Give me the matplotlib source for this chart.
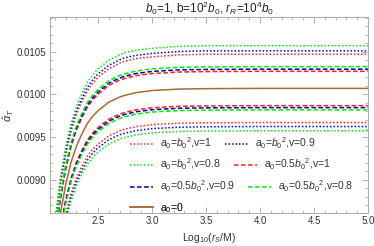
import matplotlib
matplotlib.use("Agg")
import matplotlib.pyplot as plt
from matplotlib.ticker import MultipleLocator, FormatStrFormatter

plt.rcParams['font.family'] = ['Liberation Sans', 'DejaVu Sans']
plt.rcParams['mathtext.fontset'] = 'custom'
plt.rcParams['mathtext.rm'] = 'Liberation Sans'
plt.rcParams['mathtext.it'] = 'Liberation Sans:italic'
plt.rcParams['mathtext.bf'] = 'Liberation Sans:bold'

# log10(r_S/M) sample points
x = [2.05, 2.1, 2.15, 2.2, 2.25, 2.3, 2.35, 2.4, 2.45, 2.5, 2.6, 2.7, 2.75, 2.85, 3.0, 3.25, 3.5, 4.0, 5.0]

# upper branch (above a0=0) and lower branch for each case
red_dot_up = [0.00761, 0.00842, 0.00893, 0.00930, 0.00957, 0.00977, 0.009915, 0.01004, 0.010130, 0.01020,
              0.01030, 0.010365, 0.01039, 0.010418, 0.01044, 0.010462, 0.01047, 0.01047, 0.01047]
blue_dot_up = [0.00764, 0.00845, 0.00897, 0.00933, 0.00961, 0.00981, 0.009953, 0.01008, 0.010168, 0.01024,
               0.01034, 0.010405, 0.01043, 0.010457, 0.01048, 0.010502, 0.01051, 0.01051, 0.01051]
green_dot_up = [0.00768, 0.00850, 0.00902, 0.00939, 0.00966, 0.00986, 0.010010, 0.01014, 0.010226, 0.01030,
                0.01040, 0.010464, 0.01049, 0.010517, 0.01054, 0.010562, 0.01057, 0.01057, 0.01057]
red_dash_up = [0.007466, 0.008257, 0.008760, 0.009120, 0.009387, 0.009582, 0.009726, 0.009849, 0.009936, 0.010003,
               0.010106, 0.010167, 0.010188, 0.010219, 0.010244, 0.010262, 0.010267, 0.010270, 0.010270]
blue_dash_up = [0.007484, 0.008277, 0.008782, 0.009142, 0.009410, 0.009605, 0.009749, 0.009873, 0.009960, 0.010027,
                0.010130, 0.010192, 0.010213, 0.010244, 0.010269, 0.010287, 0.010292, 0.010295, 0.010295]
green_dash_up = [0.007506, 0.008301, 0.008807, 0.009169, 0.009437, 0.009633, 0.009778, 0.009902, 0.009989, 0.010057,
                 0.010160, 0.010222, 0.010242, 0.010273, 0.010299, 0.010317, 0.010322, 0.010325, 0.010325]
brown_a0 = [0.007321, 0.008096, 0.008590, 0.008942, 0.009204, 0.009395, 0.009536, 0.009657, 0.009743, 0.009808,
            0.009909, 0.009969, 0.009989, 0.010020, 0.010045, 0.010062, 0.010067, 0.010070, 0.010070]
red_dash_lo = [0.007174, 0.007934, 0.008417, 0.008763, 0.009019, 0.009207, 0.009345, 0.009463, 0.009547, 0.009611,
               0.009710, 0.009769, 0.009789, 0.009819, 0.009843, 0.009860, 0.009865, 0.009868, 0.009868]
blue_dash_lo = [0.007157, 0.007915, 0.008398, 0.008742, 0.008998, 0.009185, 0.009323, 0.009441, 0.009525, 0.009589,
                0.009687, 0.009747, 0.009766, 0.009796, 0.009820, 0.009837, 0.009842, 0.009845, 0.009845]
green_dash_lo = [0.007138, 0.007894, 0.008375, 0.008718, 0.008974, 0.009160, 0.009298, 0.009415, 0.009499, 0.009563,
                 0.009661, 0.009720, 0.009739, 0.009769, 0.009793, 0.009810, 0.009815, 0.009818, 0.009818]
red_dot_lo = [0.007030, 0.007775, 0.008249, 0.008587, 0.008838, 0.009022, 0.009157, 0.009274, 0.009356, 0.009419,
              0.009515, 0.009573, 0.009593, 0.009622, 0.009646, 0.009662, 0.009667, 0.009670, 0.009670]
blue_dot_lo = [0.006996, 0.007737, 0.008208, 0.008545, 0.008795, 0.008978, 0.009113, 0.009228, 0.009310, 0.009373,
               0.009469, 0.009527, 0.009546, 0.009575, 0.009599, 0.009615, 0.009620, 0.009623, 0.009623]
green_dot_lo = [0.006960, 0.007697, 0.008166, 0.008501, 0.008750, 0.008932, 0.009066, 0.009180, 0.009262, 0.009324,
                0.009420, 0.009477, 0.009496, 0.009525, 0.009549, 0.009565, 0.009570, 0.009573, 0.009573]

labels = [r'$a_0$=$b_0{}^2$,v=1', r'$a_0$=$b_0{}^2$,v=0.9', r'$a_0$=$b_0{}^2$,v=0.8',
          r'$a_0$=0.5$b_0{}^2$,v=1', r'$a_0$=0.5$b_0{}^2$,v=0.9', r'$a_0$=0.5$b_0{}^2$,v=0.8',
          r'$a_0$=0']

RED = '#ff2020'
BLUE = '#0000ff'
GREEN = '#00ee00'
BROWN = '#a86a36'
dot = (1.0, 1.3)
dash = (3.0, 1.6)
lw = 1.1

fig = plt.figure(figsize=(3.74, 2.46), dpi=100)
ax = fig.add_axes([50/374, 1-213/246, 318/374, 196.3/246])

h = []
h.append(ax.plot(x, red_dot_up, color=RED, lw=lw, dashes=dot)[0])
ax.plot(x, red_dot_lo, color=RED, lw=lw, dashes=dot)
h.append(ax.plot(x, blue_dot_up, color=BLUE, lw=lw, dashes=dot)[0])
ax.plot(x, blue_dot_lo, color=BLUE, lw=lw, dashes=dot)
h.append(ax.plot(x, green_dot_up, color=GREEN, lw=lw, dashes=dot)[0])
ax.plot(x, green_dot_lo, color=GREEN, lw=lw, dashes=dot)
h.append(ax.plot(x, red_dash_up, color=RED, lw=lw, dashes=dash)[0])
ax.plot(x, red_dash_lo, color=RED, lw=lw, dashes=dash)
h.append(ax.plot(x, blue_dash_up, color='#0000aa', lw=lw, dashes=dash)[0])
ax.plot(x, blue_dash_lo, color='#0000aa', lw=lw, dashes=dash)
h.append(ax.plot(x, green_dash_up, color=GREEN, lw=lw, dashes=dash)[0])
ax.plot(x, green_dash_lo, color=GREEN, lw=lw, dashes=dash)
h.append(ax.plot(x, brown_a0, color=BROWN, lw=1.1)[0])

ax.set_xlim(2.055, 5.0)
ax.set_ylim(0.00861, 0.01091)
ax.xaxis.set_major_locator(MultipleLocator(0.5))
ax.xaxis.set_minor_locator(MultipleLocator(0.1))
ax.yaxis.set_major_locator(MultipleLocator(0.0005))
ax.yaxis.set_minor_locator(MultipleLocator(0.0001))
ax.xaxis.set_major_formatter(FormatStrFormatter('%.1f'))
ax.yaxis.set_major_formatter(FormatStrFormatter('%.4f'))
ax.tick_params(which='both', direction='in', top=True, right=True, color='#b0b0b0',
               labelsize=7, labelcolor='#333333', pad=2.5)
ax.tick_params(which='major', length=4, width=0.7)
ax.tick_params(which='minor', length=2.2, width=0.6)
for s in ax.spines.values():
    s.set_color('#b0b0b0')
    s.set_linewidth(0.8)

ax.set_title(r'$b_0$=1, b=10$^2$$b_0$, $r_R$=10$^4$$b_0$', fontsize=8.5, pad=3, color='#222222')
ax.set_xlabel(r'Log$_{10}$($r_S$/M)', fontsize=7.5, color='#333333', labelpad=3)
ax.set_ylabel(r'$\hat{\alpha}_T$', fontsize=8, color='#333333', labelpad=1)

rows = [[0, 1], [2, 3], [4, 5], [6]]
row_y = [0.355, 0.248, 0.134, 0.027]
for r, yy in zip(rows, row_y):
    leg = ax.legend([h[i] for i in r], [labels[i] for i in r], ncol=len(r), loc='center left',
                    bbox_to_anchor=(0.252, yy), frameon=False, fontsize=7.5, borderpad=0,
                    borderaxespad=0, handlelength=2.2, handletextpad=0.7, columnspacing=1.2)
    for t in leg.get_texts():
        t.set_color('#333333')
    ax.add_artist(leg)

fig.savefig('out.png', dpi=100)
